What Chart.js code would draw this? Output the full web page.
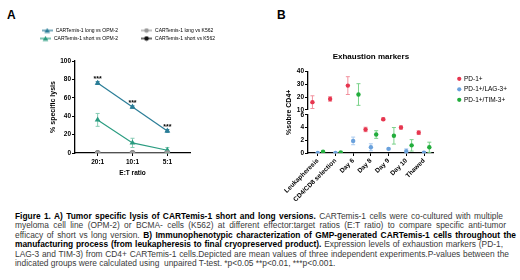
<!DOCTYPE html>
<html>
<head>
<meta charset="utf-8">
<script src="https://cdn.jsdelivr.net/npm/chart.js@4.4.0/dist/chart.umd.min.js"></script>
<style>
  html, body { margin: 0; padding: 0; background: #fff; }
  body { width: 520px; height: 280px; position: relative; overflow: hidden; font-family: 'Liberation Sans', Arial, sans-serif; }
  canvas { position: absolute; top: 0; }
  .tag { position: absolute; top: 9px; font-size: 12px; line-height: 12px; font-weight: bold; }
  #caption { position: absolute; left: 15px; top: 212px; font-size: 8.4px; line-height: 9.4px; color: #3a3a3a; }
  #caption div { text-align: justify; text-align-last: justify; height: 9.4px; }
  #caption div.last { text-align-last: left; white-space: nowrap; }
  #caption b { color: #000; }
</style>
</head>
<body>
<div class="tag" style="left:7px">A</div>
<div class="tag" style="left:277px">B</div>
<canvas id="chartA" width="260" height="210" style="left:0"></canvas>
<canvas id="chartB" width="260" height="210" style="left:260px"></canvas>
<div id="caption">
  <div style="width:488px"><b>Figure 1. A) Tumor specific lysis of CARTemis-1 short and long versions.</b> CARTemis-1 cells were co-cultured with multiple</div>
  <div style="width:491px">myeloma cell line (OPM-2) or BCMA- cells (K562) at different effector:target ratios (E:T ratio) to compare specific anti-tumor</div>
  <div style="width:501px">efficacy of short vs long version. <b>B) Immunophenotypic characterization of GMP-generated CARTemis-1 cells throughout the</b></div>
  <div style="width:488px"><b>manufacturing process (from leukapheresis to final cryopreserved product).</b> Expression levels of exhaustion markers (PD-1,</div>
  <div style="width:494px">LAG-3 and TIM-3) from CD4+ CARTemis-1 cells.Depicted are mean values of three independent experiments.P-values between the</div>
  <div class="last">indicated groups were calculated using &nbsp;unpaired T-test. *p&lt;0.05 **p&lt;0.01, ***p&lt;0.001.</div>
</div>
<script>
// ---- panel A data ----
const ratios = ['20:1', '10:1', '5:1'];
const longOpm = [76, 50, 24];
const longOpmErr = [1.5, 1.2, 1.5];
const shortOpm = [36, 11, 3];
const shortOpmErr = [7, 5, 3];
const longK562 = [0, 0, 0];
const shortK562 = [0, 0, 0];
const signif = ['***', '***', '***'];

// ---- panel B data ----
const stages = ['Leukapheresis', 'CD4/CD8 selection', 'Day 6', 'Day 8', 'Day 9', 'Day 10', 'Thawed'];
const pd1 = [16, 18.5, 29, 3.7, 5.3, 4.0, 3.2];
const pd1Err = [5, 1.8, 7, 0.35, 0.2, 0.25, 0.3];
const lag3 = [0, 0, 1.9, 0.9, 0.65, 0.3, 0.05];
const lag3Err = [0.05, 0.05, 0.6, 0.55, 0.1, 0.35, 0.1];
const tim3 = [0.2, 0.1, 22, 2.9, 2.7, 1.2, 0.9];
const tim3Err = [0.1, 0.05, 8.5, 0.6, 1.3, 0.9, 0.8];
const lowTicks = [0, 2, 4, 6];
const highTicks = [10, 20, 30, 40];

const FONT = "'Liberation Sans', Arial, sans-serif";
Chart.defaults.font.family = FONT;
Chart.defaults.color = '#000';
Chart.defaults.animation = false;

// error bars, drawn under the points
const errorBars = {
  id: 'errorBars',
  beforeDatasetsDraw(chart) {
    const ctx = chart.ctx;
    chart.data.datasets.forEach((ds, i) => {
      if (!ds.errColor) return;
      const meta = chart.getDatasetMeta(i);
      const ys = chart.scales[meta.yAxisID];
      ctx.save();
      ctx.strokeStyle = ds.errColor;
      ctx.lineWidth = 1;
      meta.data.forEach((el, j) => {
        const p = ds.data[j];
        if (!p.err) return;
        const x = el.x;
        const t = ys.getPixelForValue(p.y + p.err);
        const b = ys.getPixelForValue(Math.max(ys.min, p.y - p.err));
        ctx.beginPath();
        ctx.moveTo(x, t); ctx.lineTo(x, b);
        ctx.moveTo(x - 2, t); ctx.lineTo(x + 2, t);
        ctx.moveTo(x - 2, b); ctx.lineTo(x + 2, b);
        ctx.stroke();
      });
      ctx.restore();
    });
  }
};

const stars = {
  id: 'stars',
  afterDatasetsDraw(chart) {
    const { ctx, scales: { x, y } } = chart;
    ctx.save();
    ctx.font = 'bold 7px ' + FONT;
    ctx.textAlign = 'center';
    ctx.fillStyle = '#000';
    signif.forEach((s, i) => {
      ctx.fillText(s, x.getPixelForValue(i), y.getPixelForValue(longOpm[i]) - 4);
    });
    ctx.restore();
  }
};

function glyph(color, shape) {
  const c = document.createElement('canvas');
  c.width = 11; c.height = 6;
  const g = c.getContext('2d');
  g.strokeStyle = color; g.fillStyle = color; g.lineWidth = 1.2;
  g.beginPath(); g.moveTo(0, 3); g.lineTo(11, 3); g.stroke();
  g.beginPath();
  if (shape === 'triangle') { g.moveTo(5.5, 0.5); g.lineTo(8.3, 5.3); g.lineTo(2.7, 5.3); g.closePath(); }
  else g.arc(5.5, 3, 2.3, 0, Math.PI * 2);
  g.fill();
  return c;
}

const axisA = {
  grid: { drawOnChartArea: false, tickLength: 3, color: '#000', lineWidth: 1 },
  border: { color: '#000', width: 1.3 }
};
const blankAxis = { ticks: { display: false }, grid: { display: false }, border: { display: false } };

function lineSeries(label, values, errs, color, errColor, shape, col1) {
  return {
    label, col1, shape,
    data: values.map((v, i) => ({ x: i, y: v, err: errs ? errs[i] : 0 })),
    showLine: true,
    borderColor: color, backgroundColor: color, errColor,
    borderWidth: 1.2,
    pointStyle: shape, pointRadius: 2.2,
  };
}

new Chart(document.getElementById('chartA'), {
  type: 'scatter',
  data: {
    datasets: [
      lineSeries('CARTemis-1 long vs OPM-2', longOpm, longOpmErr, '#2a7d97', '#2a7d97', 'triangle', true),
      lineSeries('CARTemis-1 long vs K562', longK562, null, '#999999', null, 'circle', false),
      lineSeries('CARTemis-1 short vs OPM-2', shortOpm, shortOpmErr, '#2a9c80', '#86ccb4', 'triangle', true),
      lineSeries('CARTemis-1 short vs K562', shortK562, null, '#111111', null, 'circle', false),
    ]
  },
  options: {
    responsive: false,
    devicePixelRatio: 1,
    layout: { padding: { left: 3, right: 3, top: 25, bottom: 33 } },
    plugins: {
      tooltip: { enabled: false },
      legend: {
        labels: {
          font: { size: 5 },
          padding: 3,
          usePointStyle: true,
          pointStyleWidth: 12,
          boxHeight: 5,
          // trailing blanks keep the two legend columns apart
          generateLabels(chart) {
            return chart.data.datasets.map((ds, i) => ({
              text: ds.label + (ds.col1 ? ' '.repeat(14) : ' '.repeat(4)),
              datasetIndex: i,
              pointStyle: glyph(ds.borderColor, ds.shape),
              fillStyle: ds.borderColor, strokeStyle: ds.borderColor,
              lineWidth: 0, hidden: false, fontColor: '#000'
            }));
          }
        }
      }
    },
    scales: {
      x: {
        type: 'linear', min: -0.65, max: 2.65,
        afterBuildTicks: s => { s.ticks = ratios.map((_, i) => ({ value: i })); },
        afterFit: s => { s.height = 24; },
        ticks: { callback: v => ratios[v], font: { size: 6.5, weight: 'bold' }, padding: 2 },
        title: { display: true, text: 'E:T ratio', font: { size: 6.5, weight: 'bold' }, padding: { top: 1, bottom: 0 } },
        ...axisA
      },
      y: {
        min: 0, max: 100,
        afterFit: s => { s.width = 72; },
        ticks: { stepSize: 20, font: { size: 6.5, weight: 'bold' }, padding: 1 },
        title: { display: true, text: '% specific lysis', font: { size: 7, weight: 'bold' }, padding: { top: 46, bottom: 0 } },
        ...axisA
      },
      padT: { position: 'top', display: true, afterFit: s => { s.height = 10; }, ...blankAxis },
      padR: { position: 'right', display: true, afterFit: s => { s.width = 67; }, ...blankAxis }
    }
  },
  plugins: [errorBars, stars]
});

// ---- panel B: broken y axis made of two stacked scales ----
const LOW_MAX = lowTicks[lowTicks.length - 1];
const markers = [
  { label: 'PD-1+', values: pd1, errs: pd1Err, color: '#e6364f', errColor: '#f2909d', dodge: -0.3 },
  { label: 'PD-1+/LAG-3+', values: lag3, errs: lag3Err, color: '#6aa1dc', errColor: '#a9caee', dodge: 0 },
  { label: 'PD-1+/TIM-3+', values: tim3, errs: tim3Err, color: '#22ad3c', errColor: '#7bd28a', dodge: 0.3 },
];

function segment(m, upper) {
  return {
    label: m.label,
    inLegend: !upper,
    yAxisID: upper ? 'yHigh' : 'yLow',
    data: m.values.map((v, i) => ({ x: i + m.dodge, y: v, err: m.errs[i] }))
                  .filter(p => upper ? p.y > LOW_MAX : p.y <= LOW_MAX),
    backgroundColor: m.color, borderColor: m.color, errColor: m.errColor,
    pointRadius: 2.2, pointBorderWidth: 0, pointStyle: 'circle'
  };
}

const axisB = {
  grid: { drawOnChartArea: false, tickLength: 3, color: '#000', lineWidth: 1 },
  border: { color: '#000', width: 1.3 }
};
const tickFontB = { size: 6.5, weight: 'bold' };

new Chart(document.getElementById('chartB'), {
  type: 'scatter',
  data: { datasets: [...markers.map(m => segment(m, false)), ...markers.map(m => segment(m, true))] },
  options: {
    responsive: false,
    devicePixelRatio: 1,
    layout: { padding: { left: 3, right: 3, top: 52, bottom: 2 } },
    plugins: {
      tooltip: { enabled: false },
      title: {
        display: true, text: 'Exhaustion markers', fullSize: false,
        font: { size: 8, weight: 'bold' }, padding: { top: 0, bottom: 10 }
      },
      legend: {
        position: 'right', align: 'start', fullSize: false, maxWidth: 90,
        labels: {
          font: { size: 6.5 }, padding: 4, usePointStyle: true, boxWidth: 3, boxHeight: 3,
          filter: (item, data) => data.datasets[item.datasetIndex].inLegend
        }
      }
    },
    scales: {
      x: {
        type: 'linear', min: -0.55, max: 6.55,
        afterBuildTicks: s => { s.ticks = stages.map((_, i) => ({ value: i })); },
        afterFit: s => { s.height = 55; },
        ticks: { callback: v => stages[v], minRotation: 45, maxRotation: 45, autoSkip: false, font: tickFontB, padding: 1 },
        ...axisB
      },
      yHigh: {
        type: 'linear', position: 'left', stack: 'b', stackWeight: 38, weight: 2,
        min: highTicks[0], max: highTicks[highTicks.length - 1],
        afterBuildTicks: s => { s.ticks = highTicks.map(v => ({ value: v })); },
        afterFit: s => { s.width = 45; },
        ticks: { font: tickFontB, padding: 1 },
        ...axisB
      },
      yGap: {
        type: 'linear', position: 'left', stack: 'b', stackWeight: 5, weight: 1,
        afterFit: s => { s.width = 45; },
        ...blankAxis,
        title: { display: true, text: '%sobre CD4+', font: { size: 7, weight: 'bold' }, padding: { top: 22, bottom: 0 } }
      },
      yLow: {
        type: 'linear', position: 'left', stack: 'b', stackWeight: 38, weight: 0,
        min: lowTicks[0], max: LOW_MAX,
        afterBuildTicks: s => { s.ticks = lowTicks.map(v => ({ value: v })); },
        afterFit: s => { s.width = 45; },
        ticks: { font: tickFontB, padding: 1 },
        ...axisB
      },
      gapR: { position: 'right', display: true, afterFit: s => { s.width = 20; }, ...blankAxis }
    }
  },
  plugins: [errorBars]
});
</script>
</body>
</html>
